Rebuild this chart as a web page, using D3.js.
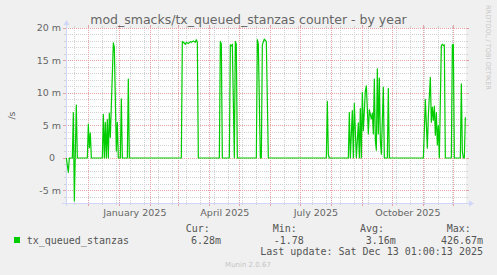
<!DOCTYPE html>
<html>
<head>
<meta charset="utf-8">
<script src="https://cdn.jsdelivr.net/npm/d3@7"></script>
<style>
  html, body { margin: 0; padding: 0; background: #f0f0f0; }
  svg { display: block; }
  text { font-family: "DejaVu Sans", sans-serif; fill: #666; }
  .mono { font-family: "DejaVu Sans Mono", monospace; font-size: 10px; fill: #555; }
</style>
</head>
<body>
<div id="chart"></div>
<script>
// daily samples of tx_queued_stanzas (values in milli-units per second)
const dates = [
  "2024-11-09", "2024-11-11", "2024-11-12", "2024-11-15", "2024-11-16", "2024-11-17", "2024-11-19", "2024-11-20",
  "2024-11-30", "2024-12-01", "2024-12-02", "2024-12-03", "2024-12-04", "2024-12-15", "2024-12-16", "2024-12-17",
  "2024-12-18", "2024-12-19", "2024-12-20", "2024-12-21", "2024-12-22", "2024-12-23", "2024-12-26", "2024-12-27",
  "2024-12-29", "2024-12-30", "2024-12-31", "2025-01-02", "2025-01-03", "2025-01-04", "2025-01-09", "2025-01-10",
  "2025-01-11", "2025-03-04", "2025-03-05", "2025-03-06", "2025-03-08", "2025-03-09", "2025-03-11", "2025-03-13",
  "2025-03-14", "2025-03-16", "2025-03-18", "2025-03-19", "2025-03-20", "2025-03-21", "2025-04-11", "2025-04-12",
  "2025-04-13", "2025-04-14", "2025-04-21", "2025-04-22", "2025-04-23", "2025-04-24", "2025-04-26", "2025-04-27",
  "2025-04-28", "2025-04-29", "2025-05-18", "2025-05-19", "2025-05-20", "2025-05-22", "2025-05-23", "2025-05-24",
  "2025-05-26", "2025-05-28", "2025-05-30", "2025-07-27", "2025-07-28", "2025-07-29", "2025-07-30", "2025-08-18",
  "2025-08-19", "2025-08-20", "2025-08-22", "2025-08-23", "2025-08-24", "2025-08-26", "2025-08-28", "2025-08-29",
  "2025-08-30", "2025-08-31", "2025-09-01", "2025-09-02", "2025-09-04", "2025-09-05", "2025-09-06", "2025-09-07",
  "2025-09-08", "2025-09-10", "2025-09-11", "2025-09-12", "2025-09-13", "2025-09-14", "2025-09-15", "2025-09-16",
  "2025-09-17", "2025-09-18", "2025-09-19", "2025-09-20", "2025-09-22", "2025-09-23", "2025-09-26", "2025-09-27",
  "2025-09-28", "2025-11-01", "2025-11-02", "2025-11-03", "2025-11-05", "2025-11-06", "2025-11-08", "2025-11-09",
  "2025-11-10", "2025-11-11", "2025-11-12", "2025-11-13", "2025-11-14", "2025-11-15", "2025-11-16", "2025-11-17",
  "2025-11-19", "2025-11-20", "2025-11-21", "2025-11-22", "2025-11-23", "2025-11-29", "2025-11-30", "2025-12-01",
  "2025-12-02", "2025-12-08", "2025-12-09", "2025-12-10", "2025-12-11", "2025-12-12", "2025-12-13"
];
const values = [
  0, -2.2, 0, 0, 7.0, -6.6, 8.15, 0,
  0, 5.2, 1.6, 3.85, 0, 0, 6.7, 0,
  5.5, 0, 5.9, 0, 6.9, 3.2, 17.7, 17.0,
  1.1, 5.5, 0, 0, 9.1, 0, 0, 12.15,
  0, 0, 17.95, 17.8, 17.5, 17.8, 17.6, 17.9,
  17.8, 18.0, 17.8, 18.2, 17.8, 0, 0, 17.95,
  17.5, 0, 0, 17.4, 17.25, 17.5, 0, 17.95,
  17.5, 0, 0, 18.2, 17.5, 0, 0, 17.4,
  18.3, 17.9, 0, 0, 8.7, 0.5, 0, 0,
  7.0, 0, 7.3, 0, 8.4, 0, 5.4, 0,
  7.6, 0, 10.1, 4.2, 10.3, 11.1, 7.6, 3.7,
  7.4, 6.0, 6.9, 3.7, 12.15, 2.7, 1.2, 13.7,
  3.7, 12.3, 2.7, 0.6, 10.9, 0, 0, 10.7,
  0, 0, 4.2, 9.0, 1.5, 6.5, 12.4, 5.5,
  7.8, 5.8, 8.0, 3.5, 7.0, 2.0, 5.0, 0,
  17.3, 17.5, 17.3, 17.4, 0, 0, 17.4, 17.5,
  0, 0, 11.4, 1.0, 0, 0, 6.28
];

const yMajorTicks = [-5, 0, 5, 10, 15, 20];
const yTickLabels = ["-5 m", "0  ", "5 m", "10 m", "15 m", "20 m"];
const yMinorTicks = d3.range(-6, 21).filter(v => v % 5 !== 0);

const title = "mod_smacks/tx_queued_stanzas counter - by year";
const seriesName = "tx_queued_stanzas";
const legendHeads = ["Cur:", "Min:", "Avg:", "Max:"];
const legendValues = ["6.28m", "-1.78", "3.16m", "426.67m"];
const lastUpdate = "Last update: Sat Dec 13 01:00:13 2025";

const W = 497, H = 275;
const plotL = 66, plotR = 466, plotT = 28, plotB = 203;
const axisColor = "#cfd6f8";
const minorColor = "#d2d2d2";
const majorColor = "#e6a3a3";

const parse = d3.timeParse("%Y-%m-%d");
const data = dates.map((d, i) => ({ date: parse(d), value: values[i] * 1e-3 }));

const startTime = new Date(2024, 10, 8, 16);
const endTime = new Date(2025, 11, 13, 16);
const x = d3.scaleTime().domain([startTime, endTime]).range([plotL, plotR]);
const y = d3.scaleLinear().domain([-6.92e-3, 20e-3]).range([plotB, plotT]);
const px = v => Math.floor(v) + 0.5;

const svg = d3.select("#chart").append("svg").attr("width", W).attr("height", H);
svg.append("rect").attr("width", W).attr("height", H).attr("fill", "#f0f0f0");
svg.append("rect").attr("x", plotL).attr("y", plotT).attr("width", plotR - plotL).attr("height", plotB - plotT).attr("fill", "#fff");

// horizontal grid
function hLine(v, color, tick) {
  const yy = px(y(v * 1e-3));
  svg.append("line").attr("x1", plotL).attr("x2", plotR).attr("y1", yy).attr("y2", yy)
    .attr("stroke", color).attr("stroke-dasharray", "1,1");
  svg.append("line").attr("x1", plotL - tick).attr("x2", plotL).attr("y1", yy).attr("y2", yy).attr("stroke", color);
  svg.append("line").attr("x1", plotR).attr("x2", plotR + tick).attr("y1", yy).attr("y2", yy).attr("stroke", color);
}
yMinorTicks.forEach(v => hLine(v, minorColor, 2));

// vertical grid: every second Sunday (minor), month starts (major)
const ref = new Date(2024, 11, 15);
const minorTimes = d3.timeSunday.range(startTime, endTime)
  .filter(d => Math.abs(Math.round((d - ref) / (7 * 864e5))) % 2 === 0);
function vLine(t, color, tick) {
  const xx = px(x(t));
  svg.append("line").attr("x1", xx).attr("x2", xx).attr("y1", plotT).attr("y2", plotB)
    .attr("stroke", color).attr("stroke-dasharray", "1,1");
  svg.append("line").attr("x1", xx).attr("x2", xx).attr("y1", plotB).attr("y2", plotB + tick).attr("stroke", color);
  svg.append("line").attr("x1", xx).attr("x2", xx).attr("y1", plotT - tick).attr("y2", plotT).attr("stroke", color);
}
minorTimes.forEach(t => vLine(t, minorColor, 2));
const months = d3.timeMonth.range(startTime, endTime);
months.forEach(t => vLine(t, majorColor, 3));
yMajorTicks.forEach(v => hLine(v, majorColor, 3));

// y labels
yMajorTicks.forEach((v, i) => {
  svg.append("text").attr("x", 61).attr("y", y(v * 1e-3)).attr("dy", "0.36em")
    .attr("text-anchor", "end").style("font-size", "9.5px").style("white-space", "pre")
    .text(yTickLabels[i]);
});

// x labels, every quarter
const fmt = d3.timeFormat("%B %Y");
months.filter(d => d.getMonth() % 3 === 0).forEach(d => {
  svg.append("text").attr("x", x(new Date(+d + 15.5 * 864e5))).attr("y", 215.5)
    .attr("text-anchor", "middle").style("font-size", "9.5px").text(fmt(d));
});

// axes with arrows
svg.append("line").attr("x1", 62).attr("x2", 470).attr("y1", 203.5).attr("y2", 203.5).attr("stroke", axisColor);
svg.append("path").attr("d", "M469,200.5L474,203.5L469,206.5Z").attr("fill", axisColor);
svg.append("line").attr("x1", 66.5).attr("x2", 66.5).attr("y1", 206).attr("y2", 24).attr("stroke", axisColor);
svg.append("path").attr("d", "M63.5,25L66.5,20L69.5,25Z").attr("fill", axisColor);

// series line
const line = d3.line().x(d => x(d.date)).y(d => y(d.value));
svg.append("path").datum(data).attr("d", line)
  .attr("fill", "none").attr("stroke", "#00cc00").attr("stroke-width", 1.2).attr("stroke-linejoin", "round");

// title and side labels
svg.append("text").attr("x", W / 2).attr("y", 24).attr("text-anchor", "middle")
  .style("font-size", "12.5px").text(title);
svg.append("text").attr("transform", "translate(15,115.5) rotate(-90)").attr("text-anchor", "middle")
  .style("font-size", "9.5px").text("/s");
svg.append("text").attr("transform", "translate(486,5) rotate(90)")
  .style("font-size", "6.6px").style("fill", "#c8c8c8").text("RRDTOOL / TOBI OETIKER");

// legend
svg.append("rect").attr("x", 14).attr("y", 237).attr("width", 6).attr("height", 6).attr("fill", "#00cc00");
svg.append("text").attr("class", "mono").attr("x", 26.7).attr("y", 243.5).text(seriesName);
const headX = [185.7, 272.7, 360, 446.7];
const valX = [191, 273.7, 365.7, 441];
legendHeads.forEach((h, i) => {
  svg.append("text").attr("class", "mono").attr("x", headX[i]).attr("y", 232).text(h);
  svg.append("text").attr("class", "mono").attr("x", valX[i]).attr("y", 243.5).text(legendValues[i]);
});
svg.append("text").attr("class", "mono").attr("x", 483).attr("y", 254.5).attr("text-anchor", "end").text(lastUpdate);
svg.append("text").attr("x", 248).attr("y", 266.5).attr("text-anchor", "middle")
  .style("font-size", "7px").style("fill", "#c4c4c4").text("Munin 2.0.67");
</script>
</body>
</html>
